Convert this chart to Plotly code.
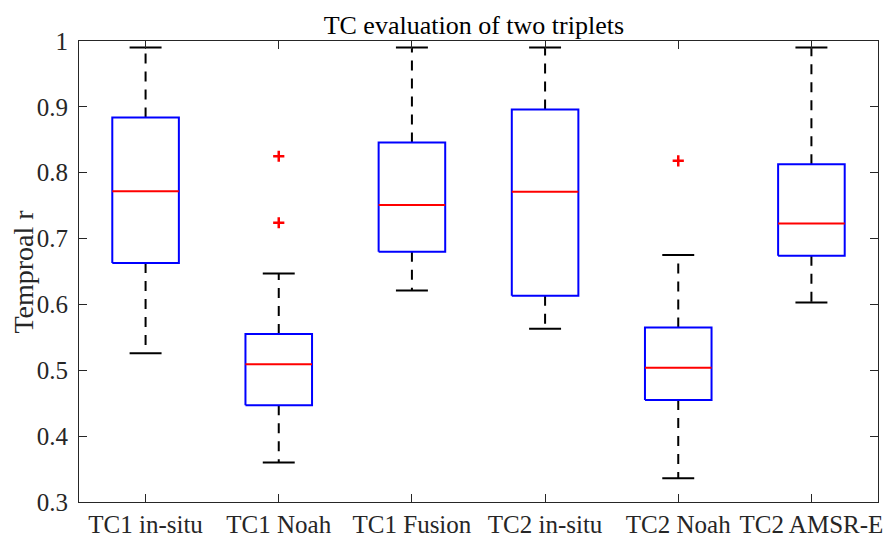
import plotly.graph_objects as go

categories = ["TC1 in-situ", "TC1 Noah", "TC1 Fusion", "TC2 in-situ", "TC2 Noah", "TC2 AMSR-E"]
upper_whisker = [0.990, 0.647, 0.990, 0.990, 0.675, 0.990]
q3 = [0.884, 0.555, 0.846, 0.896, 0.565, 0.813]
median = [0.772, 0.509, 0.751, 0.771, 0.504, 0.723]
q1 = [0.663, 0.447, 0.680, 0.613, 0.455, 0.674]
lower_whisker = [0.526, 0.360, 0.621, 0.563, 0.336, 0.603]
outlier_group = [2, 2, 5]
outlier_values = [0.825, 0.724, 0.818]
y_ticks = [0.3, 0.4, 0.5, 0.6, 0.7, 0.8, 0.9, 1.0]
y_ticktext = ["0.3", "0.4", "0.5", "0.6", "0.7", "0.8", "0.9", "1"]
y_title = "Temproal r"

BOX_HW = 0.25
CAP_HW = 0.12
pos = list(range(1, len(categories) + 1))

wx, wy, cx, cy, bx, by, mx, my = [], [], [], [], [], [], [], []
for i, p in enumerate(pos):
    wx += [p, p, None, p, p, None]
    wy += [q3[i], upper_whisker[i], None, q1[i], lower_whisker[i], None]
    cx += [p - CAP_HW, p + CAP_HW, None, p - CAP_HW, p + CAP_HW, None]
    cy += [upper_whisker[i], upper_whisker[i], None, lower_whisker[i], lower_whisker[i], None]
    bx += [p - BOX_HW, p + BOX_HW, p + BOX_HW, p - BOX_HW, p - BOX_HW, None]
    by += [q1[i], q1[i], q3[i], q3[i], q1[i], None]
    mx += [p - BOX_HW, p + BOX_HW, None]
    my += [median[i], median[i], None]

fig = go.Figure()
fig.add_trace(go.Scatter(x=wx, y=wy, mode="lines", line=dict(color="black", width=2, dash="10px,8px"), hoverinfo="skip"))
fig.add_trace(go.Scatter(x=cx, y=cy, mode="lines", line=dict(color="black", width=2), hoverinfo="skip"))
fig.add_trace(go.Scatter(x=bx, y=by, mode="lines", line=dict(color="#0000FF", width=2), hoverinfo="skip"))
fig.add_trace(go.Scatter(x=mx, y=my, mode="lines", line=dict(color="#FF0000", width=2), hoverinfo="skip"))
fig.add_trace(go.Scatter(x=outlier_group, y=outlier_values, mode="markers",
                         marker=dict(symbol="cross-thin", size=8, color="#FF0000",
                                     line=dict(color="#FF0000", width=2.5)), hoverinfo="skip"))

axis_col = "#262626"
FONT = "Liberation Serif"
fig.update_layout(
    width=884, height=534,
    margin=dict(l=79, r=6, t=41, b=32),
    paper_bgcolor="white", plot_bgcolor="white",
    showlegend=False,
    font=dict(family=FONT, size=25, color=axis_col),
    title=dict(text="TC evaluation of two triplets", x=0.536, xanchor="center", y=0.953, yanchor="middle",
               font=dict(family=FONT, size=26, color="black")),
    xaxis=dict(range=[0.5, 6.5], tickmode="array", tickvals=pos, ticktext=categories,
               showgrid=False, zeroline=False, showline=True, linecolor=axis_col, linewidth=1,
               mirror="ticks", ticks="inside", ticklen=8, tickcolor=axis_col, automargin=False,
               tickfont=dict(family=FONT, size=25, color=axis_col)),
    yaxis=dict(range=[0.3, 1.0], tickmode="array", tickvals=y_ticks, ticktext=y_ticktext,
               showgrid=False, zeroline=False, showline=True, linecolor=axis_col, linewidth=1,
               mirror="ticks", ticks="inside", ticklen=8, tickcolor=axis_col, automargin=False,
               ticklabelstandoff=5,
               tickfont=dict(family=FONT, size=25, color=axis_col)),
    annotations=[dict(text=y_title, xref="paper", yref="paper", x=-0.07, y=0.5,
                      xanchor="center", yanchor="middle", textangle=-90, showarrow=False,
                      font=dict(family=FONT, size=28, color=axis_col))],
)

fig.write_html("out.html", config={"displayModeBar": False},
               post_script="document.body.style.margin='0';document.documentElement.style.overflow='hidden';")
